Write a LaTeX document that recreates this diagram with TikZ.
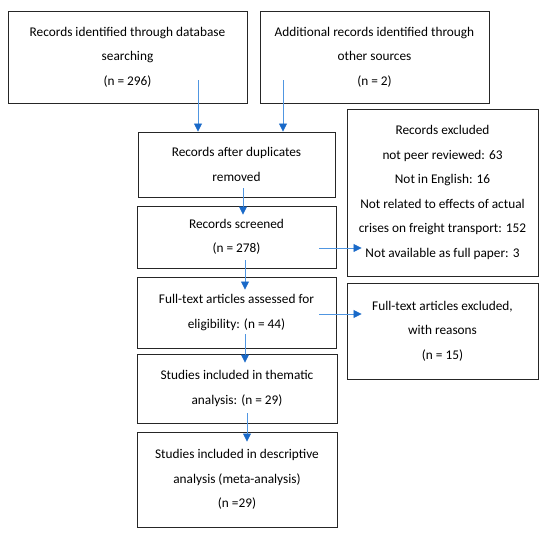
\documentclass[tikz,border=0pt]{standalone}
\usepackage{fontspec}
\setmainfont{Carlito}
\usepackage{xcolor}
\usetikzlibrary{arrows.meta, positioning, calc}
\definecolor{flowline}{RGB}{80,150,225}
\definecolor{flowhead}{RGB}{25,105,200}

\begin{document}
\begin{tikzpicture}[
  x=1pt, y=1pt,
  font=\fontsize{13.3}{24.5}\selectfont,
  stage/.style={draw=black!85, line width=0.9pt, align=center,
                inner sep=0pt, execute at begin node={\rule{0pt}{16pt}}},
  arr/.style={flowline, line width=0.8pt,
              -{Triangle[width=8pt, length=8pt, color=flowhead, fill=flowhead]}}
]
  \useasboundingbox (0,0) rectangle (550,-537);

  % identification
  \node[stage, minimum width=239, minimum height=92] (ident) at (127.5,-57)
    {Records identified through database\\ searching\\ (n = 296)};
  \node[stage, minimum width=229, minimum height=92] (other) at (374.5,-57)
    {Additional records identified through\\ other sources\\ (n = 2)};

  % screening column
  \node[stage, minimum width=197, minimum height=65] (dedup) at (236.5,-164.5)
    {Records after duplicates\\ removed};
  \node[stage, minimum width=199, minimum height=62] (screen) at (236.5,-237)
    {Records screened\\ (n = 278)};
  \node[stage, minimum width=199, minimum height=71] (fulltext) at (236.5,-312.5)
    {Full-text articles assessed for\\ eligibility: (n = 44)};
  \node[stage, minimum width=200, minimum height=69] (thematic) at (237,-388.5)
    {Studies included in thematic\\ analysis: (n = 29)};
  \node[stage, minimum width=200, minimum height=95] (descr) at (237,-479.5)
    {Studies included in descriptive\\ analysis (meta-analysis)\\ (n =29)};

  % exclusions
  \node[stage, minimum width=191, minimum height=167] (recexcl) at (442.5,-192.5)
    {Records excluded\\ not peer reviewed: 63\\ Not in English: 16\\
     Not related to effects of actual\\ crises on freight transport: 152\\
     Not available as full paper: 3};
  \node[stage, minimum width=191, minimum height=96] (ftexcl) at (442.5,-331)
    {Full-text articles excluded,\\ with reasons\\ (n = 15)};

  \draw[arr] ([xshift=70.5, yshift=23]ident.south) -- ([xshift=-38.5]dedup.north);
  \draw[arr] ([xshift=-91.5, yshift=23]other.south) -- ([xshift=46.5]dedup.north);
  \draw[arr] ([xshift=6.5, yshift=9]dedup.south) -- ([xshift=6.5, yshift=-9]screen.north);
  \draw[arr] ([xshift=8.5, yshift=8]screen.south) -- ([xshift=8.5, yshift=-13]fulltext.north);
  \draw[arr] ([xshift=8.5, yshift=14]fulltext.south) -- ([xshift=8, yshift=-9]thematic.north);
  \draw[arr] ([xshift=10, yshift=10]thematic.south) -- ([xshift=10, yshift=-10]descr.north);
  \draw[arr] ([xshift=-17, yshift=-11]screen.east) -- ([xshift=15, yshift=-55.5]recexcl.west);
  \draw[arr] ([xshift=-17, yshift=-1.5]fulltext.east) -- ([xshift=15, yshift=17]ftexcl.west);
\end{tikzpicture}
\end{document}
